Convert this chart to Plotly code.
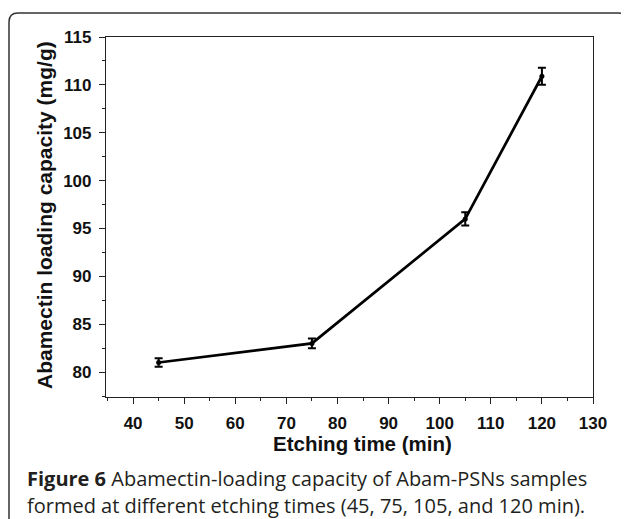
import plotly.graph_objects as go

etch_time = [45, 75, 105, 120]
loading = [81.0, 83.0, 96.0, 110.9]
err = [0.45, 0.5, 0.7, 0.9]

x_ticks = [40, 50, 60, 70, 80, 90, 100, 110, 120, 130]
y_ticks = [80, 85, 90, 95, 100, 105, 110, 115]

caption_lines = [
    "<b>Figure 6</b> Abamectin-loading capacity of Abam-PSNs samples",
    "formed at different etching times (45, 75, 105, and 120 min).",
]

# page has an 8px body margin: figure sits at (8, 8) in the window
OFF = 8
W, H = 629 - OFF, 519 - OFF
L, R, T, B = 106 - OFF, 36, 37 - OFF, 122
pw, ph = W - L - R, H - T - B

def px(xp):  # page x -> paper
    return (xp - OFF - L) / pw

def py(yp):  # page y -> paper
    return (H - B - (yp - OFF)) / ph

fig = go.Figure()
fig.add_trace(go.Scatter(
    x=etch_time, y=loading, mode="lines+markers",
    line=dict(color="black", width=2.7),
    marker=dict(color="black", size=5, symbol="circle"),
    error_y=dict(type="data", array=err, visible=True, color="black", thickness=2, width=4),
    showlegend=False,
))

axis_common = dict(
    showline=True, linecolor="#222", linewidth=1.2, mirror=True,
    ticks="outside", ticklen=6, tickwidth=1.2, tickcolor="#222",
    showgrid=False, zeroline=False, ticklabelstandoff=4,
    tickfont=dict(family="Liberation Sans, Arial", size=17, color="#111", weight="bold"),
)

fig.update_layout(
    width=W, height=H,
    margin=dict(l=L, r=R, t=T, b=B),
    paper_bgcolor="white", plot_bgcolor="white",
    xaxis=dict(range=[34.7, 130], tickvals=x_ticks,
               minor=dict(ticks="outside", ticklen=3, tickwidth=1.2, tickcolor="#222", dtick=5, tick0=0),
               **axis_common),
    yaxis=dict(range=[77.4, 115], tickvals=y_ticks,
               minor=dict(ticks="outside", ticklen=3, tickwidth=1.2, tickcolor="#222", dtick=2.5, tick0=0),
               **axis_common),
)

# axis titles
fig.add_annotation(text="Etching time (min)", xref="paper", yref="paper",
                   x=px(362), y=py(443), xanchor="center", yanchor="middle", showarrow=False,
                   font=dict(family="Liberation Sans, Arial", size=20.5, color="#111", weight="bold"))
fig.add_annotation(text="Abamectin loading capacity (mg/g)", xref="paper", yref="paper",
                   x=px(44), y=py(215), xanchor="center", yanchor="middle", textangle=-90, showarrow=False,
                   font=dict(family="Liberation Sans, Arial", size=21, color="#111", weight="bold"))

# caption
for line, yc in zip(caption_lines, [478, 505]):
    fig.add_annotation(text=line, xref="paper", yref="paper", x=px(25), y=py(yc),
                       xanchor="left", yanchor="middle", align="left", showarrow=False,
                       font=dict(family="Open Sans", size=20, color="#231f20"))

# rounded frame (page coordinates)
x0, x1, y0, y1, r = 9, 627, 13, 540, 9
path = (f"M {px(x0)},{py(y1)} L {px(x0)},{py(y0 + r)} Q {px(x0)},{py(y0)} {px(x0 + r)},{py(y0)} "
        f"L {px(x1 - r)},{py(y0)} Q {px(x1)},{py(y0)} {px(x1)},{py(y0 + r)} L {px(x1)},{py(y1)}")
fig.add_shape(type="path", path=path, xref="paper", yref="paper",
              line=dict(color="#333", width=1.5))

fig.write_html("out.html")
